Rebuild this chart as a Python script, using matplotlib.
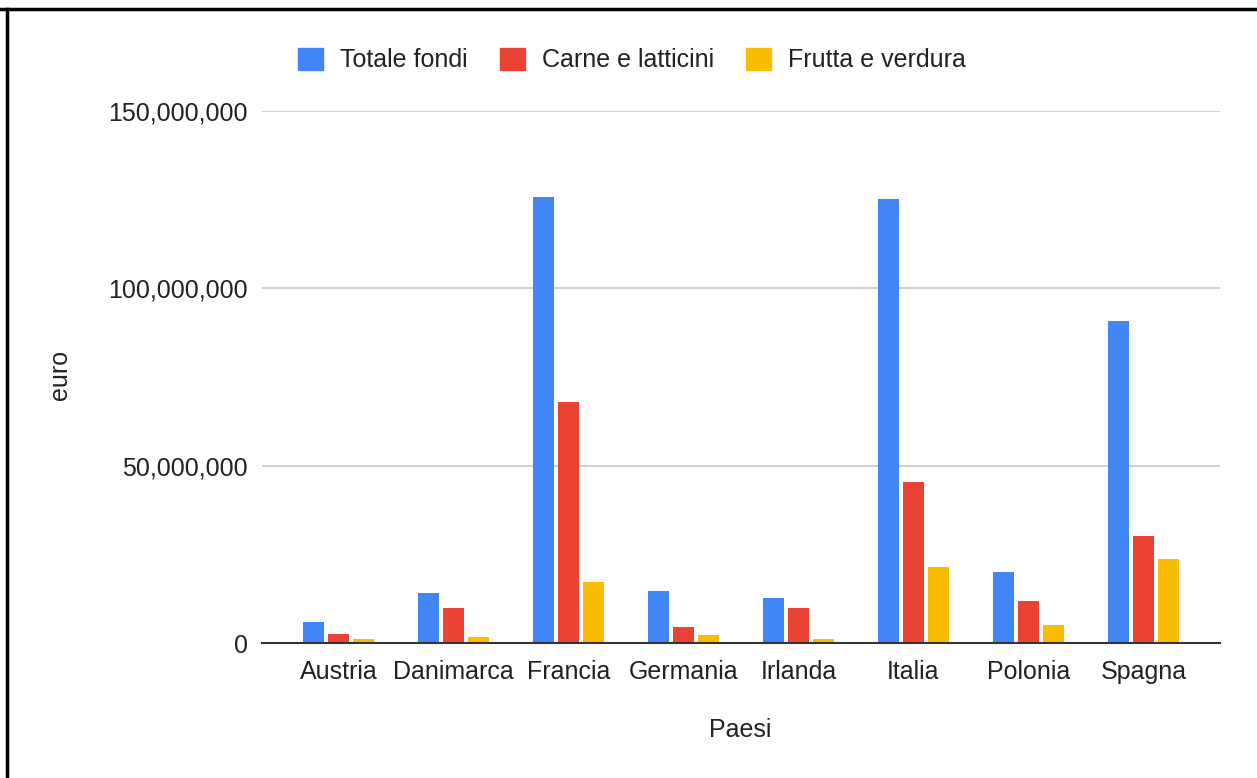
import matplotlib.pyplot as plt
import matplotlib.ticker as mticker
from matplotlib.lines import Line2D
import numpy as np

plt.rcParams['font.family'] = ['Liberation Sans', 'DejaVu Sans']

paesi = ["Austria", "Danimarca", "Francia", "Germania", "Irlanda", "Italia", "Polonia", "Spagna"]
totale_fondi = [5.9e6, 14.2e6, 125.7e6, 14.6e6, 12.9e6, 125.0e6, 20.1e6, 90.7e6]
carne_latticini = [2.5e6, 10.0e6, 67.9e6, 4.6e6, 9.9e6, 45.5e6, 11.8e6, 30.2e6]
frutta_verdura = [1.2e6, 1.8e6, 17.2e6, 2.3e6, 1.1e6, 21.4e6, 5.3e6, 23.8e6]

serie = ["Totale fondi", "Carne e latticini", "Frutta e verdura"]
colori = ["#4285F4", "#EA4335", "#FBBC04"]

fig = plt.figure(figsize=(12.57, 7.78), dpi=100)
ax = fig.add_axes([0.2084, 0.1731, 0.7622, 0.6846])

x = np.arange(len(paesi))
larghezza = 0.183
passo = 0.218
for i, (valori, nome, col) in enumerate(zip([totale_fondi, carne_latticini, frutta_verdura], serie, colori)):
    ax.bar(x + (i - 1) * passo, valori, width=larghezza, color=col, label=nome, zorder=3)

ax.set_xlim(-0.666, len(paesi) - 1 + 0.666)
ax.set_ylim(0, 150e6)
ax.set_yticks([0, 50e6, 100e6, 150e6])
ax.yaxis.set_major_formatter(mticker.FuncFormatter(lambda v, p: f"{int(v):,}"))
ax.set_xticks(x)
ax.set_xticklabels(paesi)
ax.tick_params(axis='both', length=0, labelsize=18, colors='#222222')
ax.tick_params(axis='y', pad=10)
ax.tick_params(axis='x', pad=12)

ax.grid(axis='y', color='#cccccc', linewidth=1.3, zorder=0)
for s in ['top', 'right', 'left']:
    ax.spines[s].set_visible(False)
ax.spines['bottom'].set_color('#333333')
ax.spines['bottom'].set_linewidth(1.5)
ax.spines['bottom'].set_zorder(4)

fig.text(0.048, 0.518, "euro", rotation=90, ha='center', va='center', fontsize=18, color='#222222')
fig.text(0.589, 0.062, "Paesi", ha='center', va='center', fontsize=18, color='#222222')

handles = [plt.Rectangle((0, 0), 1, 1, color=c) for c in colori]
fig.legend(handles, serie, loc='center', bbox_to_anchor=(0.503, 0.923), ncol=3, frameon=False,
           fontsize=18, handlelength=1.0, handleheight=1.0, handletextpad=0.68,
           columnspacing=1.28, labelcolor='#222222')

# cornice dello screenshot
fig.add_artist(Line2D([0, 1], [1 - 9 / 778, 1 - 9 / 778], transform=fig.transFigure, color='black', linewidth=2.5))
fig.add_artist(Line2D([7 / 1257, 7 / 1257], [0, 1 - 9 / 778], transform=fig.transFigure, color='black', linewidth=2.5))

fig.savefig('out.png', dpi=100)
